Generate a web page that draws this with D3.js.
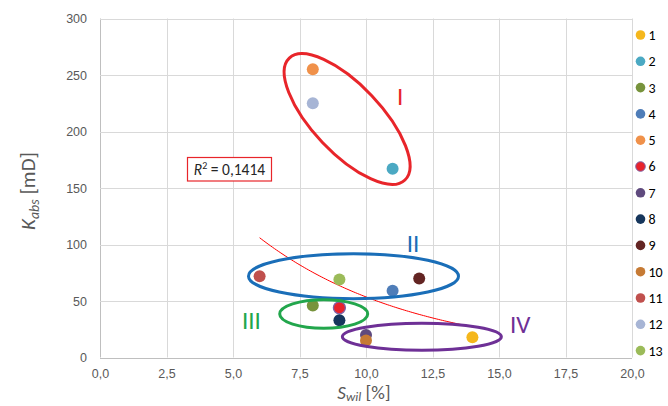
<!DOCTYPE html>
<html><head><meta charset="utf-8">
<script src="https://cdn.jsdelivr.net/npm/d3@7"></script>
<style>
body{margin:0;background:#fff}
svg{display:block;font-family:Calibri,Carlito,Lato,"Noto Sans",sans-serif}
</style>
</head><body><svg id="c" width="668" height="406"></svg>
<script>
// ---- data ----
const seriesNames = ["1","2","3","4","5","6","7","8","9","10","11","12","13"];
const swil = [14, 11, 8, 11, 8, 9, 10, 9, 12, 10, 6, 8, 9];
const kabs = [18, 167, 46, 59, 255, 44, 20, 33, 70, 15, 72, 225, 69];
const seriesColors = ["#F5B71C","#4BA9C3","#77933C","#4F7DB8","#F0914A","#E8232B","#5F4A7E","#16365C","#632523","#C67A34","#C0504D","#A7B5D5","#9BBB59"];
const seriesStroke = [null,null,null,null,null,"#7E62A6",null,null,null,null,null,null,null];
const xTicks = [0, 2.5, 5, 7.5, 10, 12.5, 15, 17.5, 20];
const xTickLabels = ["0,0","2,5","5,0","7,5","10,0","12,5","15,0","17,5","20,0"];
const yTicks = [0, 50, 100, 150, 200, 250, 300];
const yTickLabels = ["0","50","100","150","200","250","300"];
const groupNames = ["I","II","III","IV"];
const r2Text = "0,1414";

// ---- layout / annotation geometry ----
const groupLayout = [
  {cx: 9.29, cy: 211, rx: 84, ry: 34, rot: 46.5, color: "#E8252A", lx: 11.28, ly: 223.5},
  {cx: 9.53, cy: 72, rx: 105, ry: 22.5, rot: 0, color: "#1A6EB8", lx: 11.77, ly: 93.4},
  {cx: 8.41, cy: 38.5, rx: 44, ry: 14.3, rot: 0, color: "#22A64C", lx: 5.69, ly: 25.2},
  {cx: 12.1, cy: 18.4, rx: 79.5, ry: 13.5, rot: 0, color: "#6E3096", lx: 15.8, ly: 21.7}
];

const svg = d3.select("#c");
svg.append("rect").attr("width",668).attr("height",406).attr("fill","#fff");

const x = d3.scaleLinear().domain([0,20]).range([100,632]);
const y = d3.scaleLinear().domain([0,300]).range([357.5,18.5]);

// gridlines
const grid = svg.append("g");
grid.selectAll("line.v").data(xTicks).join("line")
  .attr("x1",d=>Math.round(x(d))+0.5).attr("x2",d=>Math.round(x(d))+0.5)
  .attr("y1",y(300)).attr("y2",y(0))
  .attr("stroke",d=>d===0?"#BFBFBF":"#D9D9D9").attr("stroke-width",1);
grid.selectAll("line.h").data(yTicks).join("line")
  .attr("y1",d=>Math.round(y(d))+0.5).attr("y2",d=>Math.round(y(d))+0.5)
  .attr("x1",x(0)).attr("x2",x(20))
  .attr("stroke",d=>d===0?"#BFBFBF":"#D9D9D9").attr("stroke-width",1);

// axes labels via d3 axes
const xAxis = d3.axisBottom(x).tickValues(xTicks).tickFormat((d,i)=>xTickLabels[i]).tickSize(0).tickPadding(0);
const gx = svg.append("g").attr("transform","translate(0,370)").call(xAxis);
gx.select(".domain").remove();
gx.selectAll("text").attr("fill","#595959").attr("font-size","12.5px").attr("font-family",null).attr("dy","0.6em");

const yAxis = d3.axisLeft(y).tickValues(yTicks).tickFormat((d,i)=>yTickLabels[i]).tickSize(0).tickPadding(0);
const gy = svg.append("g").attr("transform","translate(87,0)").call(yAxis);
gy.select(".domain").remove();
gy.selectAll("text").attr("fill","#595959").attr("font-size","12.5px").attr("font-family",null).attr("dy","0.35em");

// axis titles
const yt = svg.append("text").attr("transform","translate(35,191) rotate(-90)")
  .attr("text-anchor","middle").attr("fill","#595959").attr("font-size","21px");
yt.append("tspan").attr("font-style","italic").text("K");
yt.append("tspan").attr("font-style","italic").attr("font-size","14px").attr("dy","4").text("abs");
yt.append("tspan").attr("dy","-4").text(" [mD]");

const xt = svg.append("text").attr("x",364).attr("y",399)
  .attr("text-anchor","middle").attr("fill","#595959").attr("font-size","19px");
xt.append("tspan").attr("font-style","italic").text("S");
xt.append("tspan").attr("font-style","italic").attr("font-size","13px").attr("dy","2").text("wil");
xt.append("tspan").attr("dy","-2").text(" [%]");

// exponential trendline (least squares on ln y)
const n = swil.length;
const lnY = kabs.map(v=>Math.log(v));
const mx = d3.mean(swil), my = d3.mean(lnY);
let sxy=0, sxx=0;
for (let i=0;i<n;i++){ sxy += (swil[i]-mx)*(lnY[i]-my); sxx += (swil[i]-mx)**2; }
const b = sxy/sxx, a = my - b*mx;
const [xmin,xmax] = d3.extent(swil);
const trendX = d3.range(0,101).map(k=>xmin+(xmax-xmin)*k/100);
svg.append("path")
  .datum(trendX)
  .attr("d", d3.line().x(d=>x(d)).y(d=>y(Math.exp(a+b*d))))
  .attr("fill","none").attr("stroke","#FF0000").attr("stroke-width",1);

// R² box
const r2g = svg.append("g");
r2g.append("rect").attr("x",187.5).attr("y",157.5).attr("width",84).attr("height",23.5)
  .attr("fill","#fff").attr("stroke","#E8252A").attr("stroke-width",1.2);
const r2t = r2g.append("text").attr("x",229.5).attr("y",174.5).attr("text-anchor","middle")
  .attr("fill","#262626").attr("font-size","15.5px");
r2t.append("tspan").attr("font-style","italic").text("R");
r2t.append("tspan").attr("font-size","10px").attr("dy","-6").text("2");
r2t.append("tspan").attr("dy","6").text(" = " + r2Text);

// points
svg.append("g").selectAll("circle").data(seriesNames).join("circle")
  .attr("cx",(d,i)=>x(swil[i])).attr("cy",(d,i)=>y(kabs[i])).attr("r",6)
  .attr("fill",(d,i)=>seriesColors[i])
  .attr("stroke",(d,i)=>seriesStroke[i]||"none").attr("stroke-width",1.3);

// group ellipses
const eg = svg.append("g");
groupLayout.forEach((g,i)=>{
  eg.append("ellipse")
    .attr("transform",`translate(${x(g.cx)},${y(g.cy)}) rotate(${g.rot})`)
    .attr("rx",g.rx).attr("ry",g.ry)
    .attr("fill","none").attr("stroke",g.color).attr("stroke-width",3);
  eg.append("text").attr("x",x(g.lx)).attr("y",y(g.ly)).attr("text-anchor","middle")
    .attr("fill",g.color).attr("font-size","25px").attr("font-weight",300)
    .text(groupNames[i]);
});

// legend
const lg = svg.append("g").selectAll("g").data(seriesNames).join("g")
  .attr("transform",(d,i)=>`translate(640.5,${35 + i*26.3})`);
lg.append("circle").attr("r",4.8).attr("fill",(d,i)=>seriesColors[i])
  .attr("stroke",(d,i)=>seriesStroke[i]||"none").attr("stroke-width",1);
lg.append("text").attr("x",8).attr("dy","0.35em").attr("font-size","14px").attr("fill","#000").text(d=>d);
</script>
</body></html>
